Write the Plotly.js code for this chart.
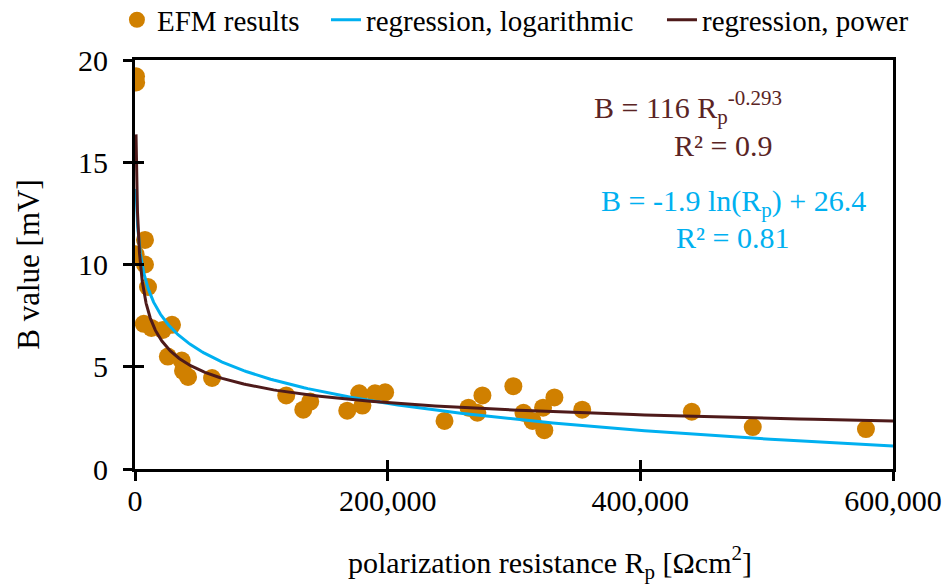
<!DOCTYPE html>
<html>
<head>
<meta charset="utf-8">
<script src="https://cdn.plot.ly/plotly-3.0.1.min.js"></script>
<style>html,body{margin:0;padding:0;background:#fff;}#chart{width:943px;height:585px;}</style>
</head>
<body>
<div id="chart"></div>
<script>
// EFM results: polarization resistance Rp [Ωcm²] and B value [mV]
const rp = [800, 900, 500, 7900, 7900, 10300, 7000, 13000, 22000, 29300,
  26000, 37000, 38000, 42000, 61000,
  119700, 133200, 138700, 168000, 177500, 180000, 190000, 198000,
  245000, 264000, 271000, 275000, 299500, 307500, 314700, 323000, 324000, 332000, 354000,
  440700, 489000, 578600];
const bValue = [19.2, 18.9, 10.5, 11.2, 10.0, 8.9, 7.1, 6.9, 6.8, 7.05,
  5.5, 5.3, 4.8, 4.5, 4.45,
  3.6, 2.9, 3.3, 2.85, 3.7, 3.1, 3.7, 3.75,
  2.35, 3.0, 2.75, 3.6, 4.05, 2.75, 2.35, 3.0, 1.9, 3.5, 2.9,
  2.8, 2.05, 1.95];

// Regression coefficients shown on the chart
const powA = 116, powB = -0.293;      // B = 116 Rp^-0.293
const logA = -1.9, logB = 26.4;       // B = -1.9 ln(Rp) + 26.4
const powR2 = '0.9', logR2 = '0.81';
const fitStart = 800, fitEnd = 600000;

const xTicks = [0, 200000, 400000, 600000];
const yTicks = [0, 5, 10, 15, 20];

const fitX = [];
for (let i = 0; i <= 300; i++) fitX.push(fitStart * Math.pow(fitEnd / fitStart, i / 300));
const fitPow = fitX.map(x => powA * Math.pow(x, powB));
const fitLog = fitX.map(x => logA * Math.log(x) + logB);

const legendNames = ['EFM results', 'regression, logarithmic', 'regression, power'];
const FONT = 'Liberation Serif, Times New Roman, serif';
const ORANGE = '#D08000', BLUE = '#00B0F0', BROWN = '#4E1A1A', BROWN_TXT = '#5A2424';

const traces = [
  {x: rp, y: bValue, type: 'scatter', mode: 'markers', name: legendNames[0],
   marker: {color: ORANGE, size: 18}, legend: 'legend'},
  {x: fitX, y: fitLog, type: 'scatter', mode: 'lines', name: legendNames[1],
   line: {color: BLUE, width: 3}, legend: 'legend2'},
  {x: fitX, y: fitPow, type: 'scatter', mode: 'lines', name: legendNames[2],
   line: {color: BROWN, width: 3}, legend: 'legend3'},
  // invisible trace to activate secondary axes (inner half of crossing ticks)
  {x: [0], y: [0], xaxis: 'x2', yaxis: 'y2', type: 'scatter', mode: 'markers',
   marker: {opacity: 0}, showlegend: false, hoverinfo: 'skip'}
];

const axCommon = {showgrid: false, zeroline: false, linecolor: '#000', linewidth: 3,
  ticks: 'outside', ticklen: 9, tickwidth: 3, tickcolor: '#000',
  tickfont: {family: FONT, size: 30, color: '#000'}};

function legendAt(x) {
  return {orientation: 'h', xref: 'container', yref: 'container', x: x, y: 0.966,
    xanchor: 'left', yanchor: 'middle', font: {family: FONT, size: 29, color: '#000'},
    bgcolor: 'rgba(0,0,0,0)'};
}

const layout = {
  width: 943, height: 585,
  margin: {l: 135, r: 50, t: 60, b: 116},
  paper_bgcolor: '#fff', plot_bgcolor: '#fff',
  font: {family: FONT, color: '#000'},
  showlegend: true,
  legend: legendAt(0.124),
  legend2: legendAt(0.3457),
  legend3: legendAt(0.702),
  xaxis: Object.assign({}, axCommon, {range: [0, 600000], tickvals: xTicks,
    tickformat: ',d', mirror: true, ticklabelstandoff: -6}),
  yaxis: Object.assign({}, axCommon, {range: [0, 20], tickvals: yTicks,
    mirror: true, ticklabelstandoff: 9,
    title: {text: 'B value [mV]', font: {family: FONT, size: 31, color: '#000'}, standoff: 30}}),
  xaxis2: {overlaying: 'x', range: [0, 600000], showline: false, showgrid: false,
    zeroline: false, ticks: 'inside', ticklen: 9, tickwidth: 3, tickcolor: '#000',
    tickvals: xTicks, showticklabels: false, side: 'bottom'},
  yaxis2: {overlaying: 'y', range: [0, 20], showline: false, showgrid: false,
    zeroline: false, ticks: 'inside', ticklen: 9, tickwidth: 3, tickcolor: '#000',
    tickvals: yTicks, showticklabels: false, side: 'left'},
  annotations: [
    {xref: 'paper', yref: 'paper', x: 0.5475, y: -0.228, xanchor: 'center', yanchor: 'middle',
     text: 'polarization resistance R<sub>p</sub> [Ωcm<sup>2</sup>]', showarrow: false,
     font: {family: FONT, size: 30, color: '#000'}},
    {xref: 'paper', yref: 'paper', x: 0.73, y: 0.883, xanchor: 'center', yanchor: 'middle',
     text: 'B = ' + powA + ' R<sub>p</sub><sup>' + powB + '</sup>', showarrow: false,
     font: {family: FONT, size: 30, color: BROWN_TXT}},
    {xref: 'paper', yref: 'paper', x: 0.776, y: 0.792, xanchor: 'center', yanchor: 'middle',
     text: 'R² = ' + powR2, showarrow: false, font: {family: FONT, size: 30, color: BROWN_TXT}},
    {xref: 'paper', yref: 'paper', x: 0.789, y: 0.65, xanchor: 'center', yanchor: 'middle',
     text: 'B = ' + logA + ' ln(R<sub>p</sub>) + ' + logB, showarrow: false,
     font: {family: FONT, size: 30, color: BLUE}},
    {xref: 'paper', yref: 'paper', x: 0.788, y: 0.565, xanchor: 'center', yanchor: 'middle',
     text: 'R² = ' + logR2, showarrow: false, font: {family: FONT, size: 30, color: BLUE}}
  ]
};

Plotly.newPlot('chart', traces, layout, {displayModeBar: false, staticPlot: true});
</script>
</body>
</html>
